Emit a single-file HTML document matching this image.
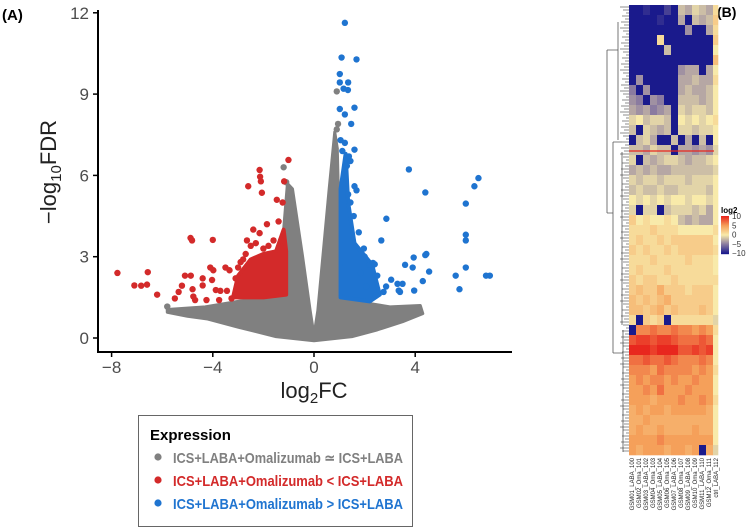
<!DOCTYPE html>
<html><head><meta charset="utf-8"><style>
html,body{margin:0;padding:0;background:#fff;width:750px;height:532px;overflow:hidden}
svg text{font-family:"Liberation Sans",sans-serif}
</style></head><body>
<svg id="fig" width="750" height="532" xmlns="http://www.w3.org/2000/svg">
<text x="2" y="20" font-size="15" font-weight="bold">(A)</text>
<text x="717" y="17" font-size="14" font-weight="bold">(B)</text>
<g id="volcano"></g>
<g id="heat"></g>
<g>
<rect x="138.5" y="415.5" width="274" height="111" fill="#fff" stroke="#666"/>
<text x="150" y="440" font-size="15" font-weight="bold">Expression</text>
<circle cx="158" cy="457" r="3.6" fill="#808080"/>
<text x="173" y="463" font-size="15" font-weight="bold" fill="#808080" textLength="230" lengthAdjust="spacingAndGlyphs">ICS+LABA+Omalizumab ≃ ICS+LABA</text>
<circle cx="158" cy="480" r="3.6" fill="#d32a2a"/>
<text x="173" y="486" font-size="15" font-weight="bold" fill="#d32a2a" textLength="230" lengthAdjust="spacingAndGlyphs">ICS+LABA+Omalizumab &lt; ICS+LABA</text>
<circle cx="158" cy="503" r="3.6" fill="#1f74d0"/>
<text x="173" y="509" font-size="15" font-weight="bold" fill="#1f74d0" textLength="230" lengthAdjust="spacingAndGlyphs">ICS+LABA+Omalizumab &gt; ICS+LABA</text>
</g>
</svg>
<script>
const NS='http://www.w3.org/2000/svg';
// ---------- volcano data ----------
const xTicks=[-8,-4,0,4];
const yTicks=[0,3,6,9,12];
const greyEnvX=[-5.8,-4.3,-3,-2,-1.15,-1.2,-1.05,-0.85,-0.45,-0.15,0,0.15,0.35,0.6,0.82,0.92,1.0,1.05,2,3,4.2,4.3,3.5,2.5,1.5,0,-1.5,-3,-4.2,-5,-5.8];
const greyEnvY=[1.05,1.15,1.35,1.5,1.6,4,5.7,5.5,3,1,0.1,1,3,5.5,7.6,7.0,4,1.5,1.3,1.15,1.2,0.9,0.6,0.3,0.05,-0.1,0.05,0.4,0.7,0.8,0.95];
const greyX=[-1.2,-5.8,0.9,0.95,0.9,0.85,-1.1];
const greyY=[6.3,1.16,9.1,7.9,7.7,7.0,5.75];
const redEnvX=[-3.2,-3,-2.5,-2,-1.5,-1.2,-1.1,-1.1,-2];
const redEnvY=[1.5,2.3,2.9,3.1,3.2,4.0,3.2,1.6,1.5];
const redX=[-7.77,-7.1,-6.83,-6.6,-6.57,-6.2,-5.5,-5.35,-5.22,-5.1,-4.8,-4.77,-4.7,-4.4,-4.4,-4.1,-4.03,-3.88,-3.75,-3.7,-3.5,-3.44,-3.26,-4.25,-4.88,-4.82,-4.0,-4.87,-3.98,-3.34,-2.6,-2.15,-2.13,-2.1,-2.06,-2.4,-2.65,-1.86,-1.47,-1.24,-1.18,-1.01,-1.4,-2.15,-1.6,-2.9,-2.7,-3.1,-2.5,-2.3,-1.8,-1.3,-2.0,-2.8,-3.0];
const redY=[2.4,1.94,1.93,1.97,2.43,1.6,1.46,1.7,1.93,2.3,1.8,1.53,1.4,1.94,2.2,2.6,2.14,1.77,1.4,1.74,2.6,1.74,1.46,1.4,3.69,3.6,3.62,2.3,2.5,2.5,5.6,6.2,5.95,5.78,5.36,4.0,3.6,4.2,5.1,5.0,5.78,6.57,4.3,3.87,3.6,2.8,3.1,2.2,3.4,3.5,3.4,3.6,3.3,2.9,2.6];
const blueEnvX=[1.05,1.05,1.25,1.35,1.6,2.3,2.6,2.2];
const blueEnvY=[1.5,5.5,6.8,5.0,3.5,2.7,1.6,1.35];
const blueX=[1.22,1.09,1.68,1.02,1.02,1.35,1.17,1.34,1.02,1.22,1.6,1.47,1.05,1.22,1.6,1.12,1.38,1.44,1.3,1.6,1.68,1.35,1.44,1.57,1.77,1.97,2.2,3.75,4.4,6.5,6.34,6.0,2.86,6.0,6.0,2.66,4.44,3.94,6.0,2.33,2.4,2.5,2.85,3.05,3.3,3.5,3.6,3.9,4.3,3.96,3.35,2.45,2.06,2.75,3.4,4.4,4.55,6.8,6.95,5.6,5.75,2.0,1.85];
const blueY=[11.63,10.35,10.28,9.74,9.43,9.43,9.2,9.15,8.45,8.25,8.5,7.9,7.3,7.2,6.95,6.9,6.7,6.53,6.35,5.6,5.45,5.3,5.0,4.5,3.9,3.3,2.7,6.22,5.37,5.9,5.6,4.96,4.4,3.81,3.6,3.6,3.1,2.97,2.6,2.77,2.72,2.3,1.9,2.15,2.0,2.0,2.7,2.6,2.1,1.75,1.75,1.57,1.9,1.7,1.7,3.06,2.45,2.3,2.3,2.3,1.8,3.0,2.4];

const sx=v=>314+v*25.3;
const sy=v=>338-v*27.1;
const V=document.getElementById('volcano');
function mk(tag,attrs,parent){const e=document.createElementNS(NS,tag);for(const k in attrs)e.setAttribute(k,attrs[k]);(parent||V).appendChild(e);return e;}
function env(xs,ys,col,name,sw){
  const p=mk('polygon',{points:xs.map((x,i)=>sx(x)+','+sy(ys[i])).join(' '),fill:col,stroke:col,'stroke-width':sw,'stroke-linejoin':'round'});
  
  
}
function pts(xs,ys,col,name){
  xs.forEach((x,i)=>{const c=mk('circle',{cx:sx(x),cy:sy(ys[i]),r:3.2,fill:col});
    
    });
}
env(greyEnvX,greyEnvY,'#808080','grey-point-cloud',3);
pts(greyX,greyY,'#808080','grey-point');
env(redEnvX,redEnvY,'#d32a2a','red-point-cloud',4);
pts(redX,redY,'#d32a2a','red-point');
env(blueEnvX,blueEnvY,'#1f74d0','blue-point-cloud',4);
pts(blueX,blueY,'#1f74d0','blue-point');
// axes
let ax=mk('path',{d:'M98,10 V352 H512',fill:'none',stroke:'#000','stroke-width':2});


yTicks.forEach(t=>{
  mk('line',{x1:93,x2:98,y1:sy(t),y2:sy(t),stroke:'#000','stroke-width':1.5});
  const tx=mk('text',{x:89,y:sy(t)+6,'text-anchor':'end','font-size':17,fill:'#4d4d4d'});tx.textContent=t;
  
  
});
xTicks.forEach(t=>{
  mk('line',{x1:sx(t),x2:sx(t),y1:352,y2:357,stroke:'#000','stroke-width':1.5});
  const tx=mk('text',{x:sx(t),y:373,'text-anchor':'middle','font-size':17,fill:'#4d4d4d'});tx.textContent=(t<0?'−'+(-t):t);
  
  
});
let xl=mk('text',{x:314,y:398,'text-anchor':'middle','font-size':22,fill:'#222'});
xl.innerHTML='log<tspan font-size="15" dy="5">2</tspan><tspan dy="-5">FC</tspan>';


let yl=mk('text',{x:0,y:0,'text-anchor':'middle','font-size':22,fill:'#222',transform:'translate(56,172) rotate(-90)'});
yl.innerHTML='−log<tspan font-size="15" dy="5">10</tspan><tspan dy="-5">FDR</tspan>';



// ---------- heatmap data ----------
const heatRows=[
[-10,-10,-9,-10,-10,-8,-10,-2,-3,-1,-2,-3,1],
[-10,-10,-10,-10,-9,-10,-10,-3,-10,-2,-3,-2,2],
[-10,-10,-10,-10,-10,-10,-10,-10,-4,-10,-10,-3,1],
[-10,-10,-10,-10,1,-10,-10,-10,-10,-10,-10,-10,2],
[-10,-10,-10,-10,-10,-2,-10,-10,-10,-10,-10,-10,0],
[-10,-10,-10,-10,-10,-10,-10,-10,-10,-10,-10,-10,3],
[-10,-10,-10,-10,-10,-10,-10,-4,-3,-3,-10,-3,0],
[-10,-4,-10,-10,-10,-10,-10,-3,-3,-2,-3,-3,1],
[-5,-10,-4,-10,-10,-10,-10,-3,-2,-3,-3,-2,0],
[-4,-5,-10,-4,-5,-10,-10,-2,-2,-2,-3,-2,0],
[-3,-4,-3,-5,-4,-3,-10,-1,-2,-1,-1,-2,0],
[-1,0,-2,-1,-1,-2,-10,0,-1,0,-1,0,1],
[-2,-10,-1,-2,-3,-2,-10,-1,-1,-2,-1,-1,0],
[-10,-2,-1,-3,-10,-10,-2,-10,-3,-10,-2,-10,0],
[-2,-2,-3,-1,-2,-2,-10,-3,-3,-4,-3,-4,-1],
[-1,-10,-2,-3,-2,-1,-1,-2,-3,-2,-2,-1,0],
[-3,-2,-3,-2,-3,-3,-2,-2,-2,-2,-2,-2,-1],
[-1,-2,-1,-1,-2,-1,-1,-1,-2,-1,-1,-1,0],
[-2,-1,-2,-2,-1,-2,-2,-1,-1,-1,-1,-2,0],
[0,-1,0,-1,0,-1,0,0,-1,0,0,-1,0],
[-1,-10,-1,-1,-10,-2,-1,-1,-1,-2,-1,-3,0],
[2,0,1,0,0,1,0,-2,-3,-2,-3,-3,0],
[1,1,1,2,1,1,1,0,0,0,0,0,1],
[1,2,1,1,2,1,2,2,2,2,2,2,0],
[2,1,2,1,1,2,1,2,2,2,2,2,1],
[1,1,1,2,1,1,1,1,2,1,1,1,0],
[1,2,1,1,1,2,1,1,1,1,1,1,0],
[2,1,2,2,1,1,2,1,1,1,1,1,1],
[2,3,2,2,4,2,2,2,1,2,2,2,0],
[3,2,3,2,3,4,2,2,2,2,2,2,0],
[3,3,2,3,4,2,3,2,2,2,3,2,0],
[1,-10,2,1,2,-10,1,1,1,1,1,1,-1],
[-10,6,6,7,6,6,7,6,6,5,6,5,1],
[8,9,9,8,9,9,8,7,7,7,8,7,0],
[10,10,10,9,10,10,10,8,8,9,8,9,0],
[7,7,8,7,7,8,7,6,6,6,7,6,0],
[6,6,6,5,7,6,6,6,6,5,6,5,1],
[5,6,5,6,6,5,6,5,5,6,5,5,0],
[5,5,6,5,7,5,5,5,6,5,5,5,0],
[5,5,5,4,5,5,5,6,5,5,6,5,1],
[4,5,4,5,5,4,5,5,5,5,5,4,0],
[4,4,5,4,4,4,4,4,4,4,4,4,0],
[4,5,4,4,5,4,4,4,4,5,4,4,0],
[5,5,5,5,6,5,5,5,5,5,5,5,0],
[5,4,5,5,5,4,5,5,4,5,-10,4,-1]];
const sampleLabels=['GSM01','GSM02','GSM03','GSM04','GSM05','GSM06','GSM07','GSM08','GSM09','GSM10','GSM11','GSM12','ctrl'];
const legendTicks=[10,5,0,-5,-10];
const stops=[[-10,[26,26,140]],[-5,[138,123,160]],[0,[248,234,170]],[5,[245,160,90]],[10,[232,39,30]]];
function col(v){for(let i=0;i<stops.length-1;i++){const[a,ca]=stops[i],[b,cb]=stops[i+1];if(v<=b){const t=(v-a)/(b-a);return 'rgb('+ca.map((c,k)=>Math.round(c+(cb[k]-c)*t)).join(',')+')';}}return 'rgb(232,39,30)';}
const H=document.getElementById('heat');
const hx0=629,hy0=5,cw=7,rh=450/heatRows.length;
heatRows.forEach((row,r)=>row.forEach((v,c)=>{
  const w=c<12?cw:5;
  const e=mk('rect',{x:hx0+c*cw,y:hy0+r*rh,width:w+0.3,height:rh+0.3,fill:col(v)},H);
  
  
}));
let rl=mk('line',{x1:629,x2:714,y1:151,y2:151,stroke:'#e8271e','stroke-width':1.2},H);


// dendrogram
const dg=mk('g',{stroke:'#555','stroke-width':0.8,fill:'none'},H);


mk('path',{d:'M607,50 V213 M607,50 H618 M607,213 H613 M618,22 V140 M613,142 V353 M613,142 H622 M613,353 H623 M623,330 V452 M622,152 V325'},dg);
for(let y=7;y<454;y+=3){mk('line',{x1:620+(y%7),x2:629,y1:y,y2:y,stroke:'#444','stroke-width':0.6},dg);}
// sample labels
sampleLabels.forEach((s,i)=>{
  const t=mk('text',{x:0,y:0,'font-size':6,fill:'#222',transform:'translate('+(hx0+i*cw+5)+',458) rotate(-90)','text-anchor':'end'},H);
  t.textContent=s+'_'+(i%2?'Oma':'LABA')+'_'+(100+i);
  
  
});
// legend
const lg=mk('g',{},H);


const lt=mk('text',{x:721,y:213,'font-size':8,'font-weight':'bold'},lg);lt.textContent='log2';
for(let i=0;i<38;i++){mk('rect',{x:721,y:216+i,width:8,height:1.2,fill:col(10-20*i/37)},lg);}
legendTicks.forEach(t=>{const y=216+(10-t)/20*37;
  const tx=mk('text',{x:732,y:y+3,'font-size':8,fill:'#333'},lg);tx.textContent=t<0?'−'+(-t):t;
  
  });
</script>
</body></html>
